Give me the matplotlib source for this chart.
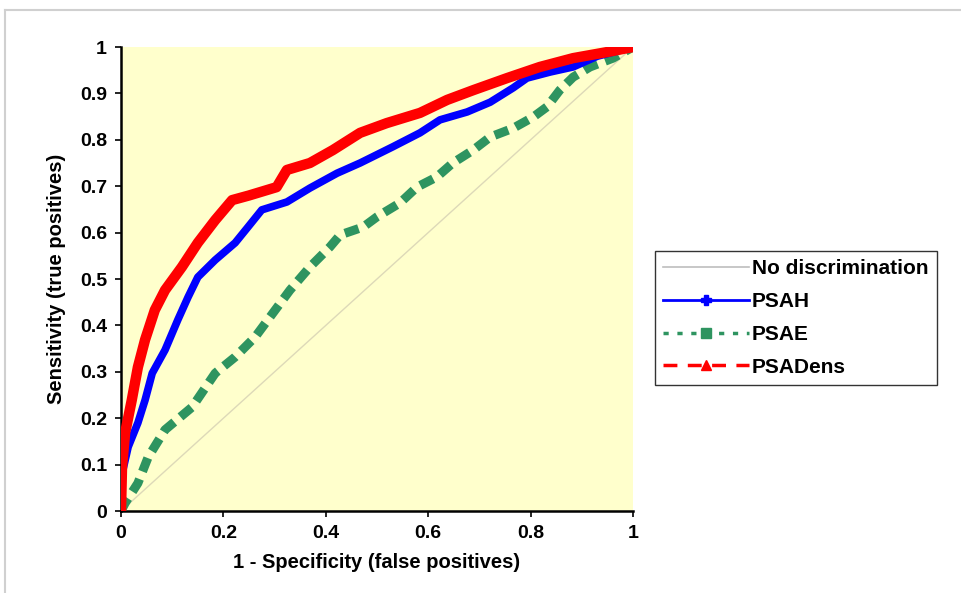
import matplotlib
matplotlib.use("Agg")
import matplotlib.pyplot as plt
from matplotlib.lines import Line2D

plt.rcParams['font.family'] = ['Liberation Sans', 'DejaVu Sans']

# Data
diag_x = [0, 1]
diag_y = [0, 1]

psah_x = [0, 0.002, 0.014, 0.033, 0.047, 0.061, 0.086, 0.111, 0.131, 0.15, 0.184, 0.223, 0.248, 0.275,
          0.324, 0.369, 0.422, 0.467, 0.531, 0.584, 0.623, 0.676, 0.721, 0.766, 0.793, 0.838, 0.883, 0.93, 1.0]
psah_y = [0, 0.08, 0.138, 0.19, 0.239, 0.297, 0.347, 0.412, 0.461, 0.504, 0.541, 0.578, 0.612, 0.649,
          0.666, 0.696, 0.728, 0.75, 0.785, 0.815, 0.843, 0.86, 0.881, 0.912, 0.933, 0.946, 0.957, 0.98, 1.0]

psae_x = [0, 0.008, 0.033, 0.053, 0.086, 0.139, 0.184, 0.223, 0.262, 0.297, 0.33, 0.369, 0.408, 0.428,
          0.473, 0.5, 0.545, 0.578, 0.617, 0.648, 0.688, 0.721, 0.766, 0.805, 0.832, 0.857, 0.883, 0.916, 0.961, 1.0]
psae_y = [0, 0.017, 0.06, 0.116, 0.175, 0.224, 0.297, 0.332, 0.375, 0.427, 0.476, 0.526, 0.569, 0.595,
          0.612, 0.634, 0.664, 0.698, 0.72, 0.75, 0.778, 0.806, 0.825, 0.849, 0.871, 0.907, 0.935, 0.957, 0.976, 1.0]

psadens_x = [0, 0.002, 0.008, 0.021, 0.033, 0.047, 0.066, 0.086, 0.119, 0.15, 0.184, 0.217, 0.25, 0.271,
             0.304, 0.324, 0.369, 0.414, 0.467, 0.519, 0.584, 0.637, 0.688, 0.754, 0.818, 0.883, 0.949, 1.0]
psadens_y = [0, 0.095, 0.168, 0.239, 0.31, 0.369, 0.433, 0.476, 0.526, 0.578, 0.627, 0.67, 0.68, 0.687,
             0.698, 0.735, 0.75, 0.778, 0.815, 0.836, 0.858, 0.886, 0.907, 0.933, 0.957, 0.976, 0.989, 1.0]

x_ticks = [0, 0.2, 0.4, 0.6, 0.8, 1]
x_ticklabels = ["0", "0.2", "0.4", "0.6", "0.8", "1"]
y_ticks = [0, 0.1, 0.2, 0.3, 0.4, 0.5, 0.6, 0.7, 0.8, 0.9, 1]
y_ticklabels = ["0", "0.1", "0.2", "0.3", "0.4", "0.5", "0.6", "0.7", "0.8", "0.9", "1"]

labels = ["No discrimination", "PSAH", "PSAE", "PSADens"]

RED = "#FF0000"
BLUE = "#0000FF"
GREEN = "#2E9460"
DIAG = "#DDD9B8"

fig = plt.figure(figsize=(9.62, 5.93), dpi=100)
fig.patch.set_facecolor("white")

# figure frame lines (gray border top/left)
fig.add_artist(Line2D([5/962, 1.0], [1 - 10/593, 1 - 10/593], transform=fig.transFigure,
                      color="#D0D0D0", lw=1.5))
fig.add_artist(Line2D([5/962, 5/962], [0, 1 - 10/593], transform=fig.transFigure,
                      color="#D0D0D0", lw=1.5))

ax = fig.add_axes([121/962, 82/593, 512/962, 464/593])
ax.set_facecolor("#FFFFCC")

ax.plot(diag_x, diag_y, color=DIAG, lw=1.0, zorder=2)
ax.plot(psae_x, psae_y, color=GREEN, lw=6.5, linestyle=(0, (1.6, 0.9)),
        dash_capstyle="butt", solid_joinstyle="round", zorder=3)
ax.plot(psah_x, psah_y, color=BLUE, lw=5.5, solid_joinstyle="round",
        solid_capstyle="round", zorder=4)
ax.plot(psadens_x, psadens_y, color=RED, lw=7.5, solid_joinstyle="round",
        solid_capstyle="round", zorder=5)

ax.set_xlim(0, 1)
ax.set_ylim(0, 1)
ax.set_xticks(x_ticks)
ax.set_xticklabels(x_ticklabels)
ax.set_yticks(y_ticks)
ax.set_yticklabels(y_ticklabels)

for s in ["top", "right"]:
    ax.spines[s].set_visible(False)
for s in ["left", "bottom"]:
    ax.spines[s].set_color("black")
    ax.spines[s].set_linewidth(1.8)

ax.tick_params(axis="both", direction="out", length=4, width=1.2, color="black",
               labelsize=14, pad=6)
for lbl in ax.get_xticklabels() + ax.get_yticklabels():
    lbl.set_fontweight("bold")

ax.set_xlabel("1 - Specificity (false positives)", fontsize=14.5, fontweight="bold", labelpad=8)
ax.set_ylabel("Sensitivity (true positives)", fontsize=14.5, fontweight="bold", labelpad=10)

handles = [
    Line2D([], [], color="#BDBDBD", lw=1.2),
    Line2D([], [], color=BLUE, lw=2, marker="P", markersize=7),
    Line2D([], [], color=GREEN, lw=2.5, linestyle=(0, (1.5, 2.5)), marker="s", markersize=7),
    Line2D([], [], color=RED, lw=2.5, linestyle=(0, (4, 3)), marker="^", markersize=7),
]
leg = fig.legend(handles, labels, loc="upper left", bbox_to_anchor=(655/962, 1 - 251/593),
                 prop={"weight": "bold", "size": 15}, frameon=True, fancybox=False,
                 edgecolor="black", handlelength=4.1, handletextpad=0.15,
                 labelspacing=0.66, borderpad=0.4, borderaxespad=0)
leg.get_frame().set_linewidth(1.0)

fig.savefig("out.png", dpi=100, facecolor="white")
